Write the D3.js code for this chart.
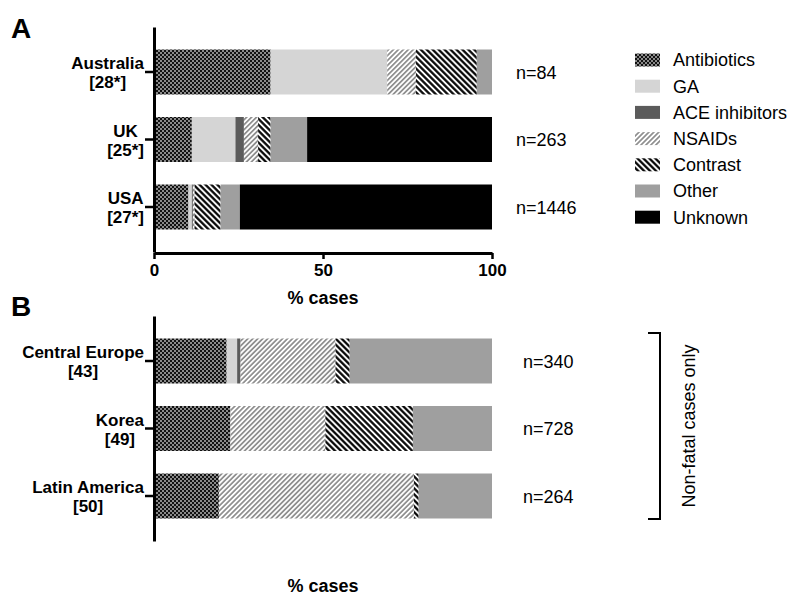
<!DOCTYPE html>
<html>
<head>
<meta charset="utf-8">
<script src="https://cdn.jsdelivr.net/npm/d3@7"></script>
<style>
  body { margin: 0; background: #fff; }
  svg text { font-family: "Liberation Sans", Arial, sans-serif; }
</style>
</head>
<body>
<svg id="chart" width="800" height="605"></svg>
<script>
// drug classes (stack order)
const drugs = ["Antibiotics", "GA", "ACE inhibitors", "NSAIDs", "Contrast", "Other", "Unknown"];

// panel A
const regionsA = ["Australia", "UK", "USA"];
const refsA = ["[28*]", "[25*]", "[27*]"];
const nA = [84, 263, 1446];
const australia = [34.5, 34.5, 0, 8.5, 18, 4.5, 0];
const uk = [11.2, 12.9, 2.5, 4.2, 3.7, 10.8, 54.7];
const usa = [10.2, 1.0, 0.3, 0.5, 7.7, 5.7, 74.6];

// panel B (non-fatal cases only)
const regionsB = ["Central Europe", "Korea", "Latin America"];
const refsB = ["[43]", "[49]", "[50]"];
const nB = [340, 728, 264];
const centralEurope = [21.5, 3.1, 1.0, 28.1, 4.2, 42.1, 0];
const korea = [22.6, 0, 0, 28.1, 25.9, 23.4, 0];
const latinAmerica = [19.2, 0, 0, 57.7, 1.4, 21.7, 0];

const xTicks = [0, 50, 100];

const svg = d3.select("#chart");

// fills / patterns
const defs = svg.append("defs");
const checker = defs.append("pattern").attr("id", "p-anti")
  .attr("patternUnits", "userSpaceOnUse").attr("width", 4).attr("height", 4);
checker.append("rect").attr("width", 4).attr("height", 4).attr("fill", "#111");
checker.append("rect").attr("width", 2).attr("height", 2).attr("fill", "#8a8a8a");
checker.append("rect").attr("x", 2).attr("y", 2).attr("width", 2).attr("height", 2).attr("fill", "#8a8a8a");

function hatch(id, angle, size, color, sw) {
  const p = defs.append("pattern").attr("id", id)
    .attr("patternUnits", "userSpaceOnUse")
    .attr("width", size).attr("height", size)
    .attr("patternTransform", `rotate(${angle})`);
  p.append("rect").attr("width", size).attr("height", size).attr("fill", "#fff");
  p.append("line").attr("x1", size / 2).attr("x2", size / 2).attr("y1", 0).attr("y2", size)
    .attr("stroke", color).attr("stroke-width", sw);
}
hatch("p-nsaid", 45, 3.5, "#6a6a6a", 1.3);
hatch("p-contrast", -45, 4.2, "#000", 2.2);

const fills = ["url(#p-anti)", "#d5d5d5", "#5b5b5b", "url(#p-nsaid)", "url(#p-contrast)", "#9f9f9f", "#000"];
const color = d3.scaleOrdinal().domain(drugs).range(fills);

const x = d3.scaleLinear().domain([0, 100]).range([154, 492]);

function panel(regions, refs, ns, rows, y0, y1, withXAxis, nX) {
  const y = d3.scaleBand().domain(regions).range([y0, y1])
    .paddingInner(1 / 3).paddingOuter(1 / 3);

  const table = regions.map((r, i) => {
    const o = { region: r };
    drugs.forEach((d, j) => { o[d] = rows[i][j]; });
    return o;
  });
  const series = d3.stack().keys(drugs)(table);

  const g = svg.append("g");
  g.selectAll("g.series")
    .data(series)
    .join("g")
    .attr("class", "series")
    .attr("fill", d => color(d.key))
    .selectAll("rect")
    .data(d => d.map(v => ({ v, region: v.data.region })))
    .join("rect")
    .attr("x", d => x(d.v[0]))
    .attr("width", d => Math.max(0, x(d.v[1]) - x(d.v[0])))
    .attr("y", d => y(d.region))
    .attr("height", y.bandwidth());

  // y axis
  const yAxis = g.append("g")
    .attr("transform", `translate(${x(0)},0)`)
    .call(d3.axisLeft(y).tickSize(9).tickSizeOuter(0).tickPadding(10));
  yAxis.select(".domain").attr("stroke-width", 3);
  yAxis.selectAll(".tick line").attr("stroke-width", 2.5);
  yAxis.selectAll(".tick text").each(function (d, i) {
    const t = d3.select(this).text(null)
      .attr("font-size", 17).attr("font-weight", "bold").attr("fill", "#000")
      .attr("text-anchor", "middle").attr("dy", null);
    const l1 = t.append("tspan").text(d).attr("y", -3);
    const l2 = t.append("tspan").text(refs[i]).attr("y", 16);
    const w = Math.max(l1.node().getComputedTextLength(), l2.node().getComputedTextLength());
    const cx = -10 - w / 2;
    l1.attr("x", cx);
    l2.attr("x", cx);
  });
  yAxis.selectAll(".tick text").attr("x", null);

  // n labels
  g.selectAll("text.n")
    .data(regions)
    .join("text")
    .attr("class", "n")
    .attr("x", nX)
    .attr("y", d => y(d) + y.bandwidth() / 2 + 6.5)
    .attr("font-size", 18)
    .text((d, i) => "n=" + ns[i]);

  if (withXAxis) {
    const xAxis = g.append("g")
      .attr("transform", `translate(0,${y1 + 1})`)
      .call(d3.axisBottom(x).tickValues(xTicks).tickSize(6).tickSizeOuter(0).tickPadding(5));
    xAxis.select(".domain").attr("stroke-width", 3);
    xAxis.selectAll(".tick line").attr("stroke-width", 2.5);
    xAxis.selectAll(".tick text").attr("font-size", 17).attr("font-weight", "bold")
      .attr("fill", "#000").attr("font-family", "Liberation Sans, Arial, sans-serif");
  }
  return y;
}

panel(regionsA, refsA, nA, [australia, uk, usa], 27, 252, true, 516);
panel(regionsB, refsB, nB, [centralEurope, korea, latinAmerica], 316, 541, false, 523);

// axis titles
svg.append("text").attr("x", 323).attr("y", 304).attr("text-anchor", "middle")
  .attr("font-size", 18).attr("font-weight", "bold").text("% cases");
svg.append("text").attr("x", 323).attr("y", 592).attr("text-anchor", "middle")
  .attr("font-size", 18).attr("font-weight", "bold").text("% cases");

// panel letters
svg.append("text").attr("x", 11).attr("y", 38).attr("font-size", 28).attr("font-weight", "bold").text("A");
svg.append("text").attr("x", 11).attr("y", 316).attr("font-size", 28).attr("font-weight", "bold").text("B");

// legend
const legend = svg.append("g").attr("transform", "translate(635,60)");
const row = legend.selectAll("g").data(drugs).join("g")
  .attr("transform", (d, i) => `translate(0,${i * 26.2})`);
row.append("rect").attr("y", -6.5).attr("width", 25).attr("height", 13).attr("fill", d => color(d));
row.append("text").attr("x", 38).attr("dy", "0.36em").attr("font-size", 18).attr("fill", "#000").text(d => d);

// bracket for panel B
svg.append("path").attr("d", "M648,333H660V519H648")
  .attr("fill", "none").attr("stroke", "#000").attr("stroke-width", 2);
svg.append("text").attr("transform", "translate(695,426) rotate(-90)")
  .attr("text-anchor", "middle").attr("font-size", 18).text("Non-fatal cases only");
</script>
</body>
</html>
